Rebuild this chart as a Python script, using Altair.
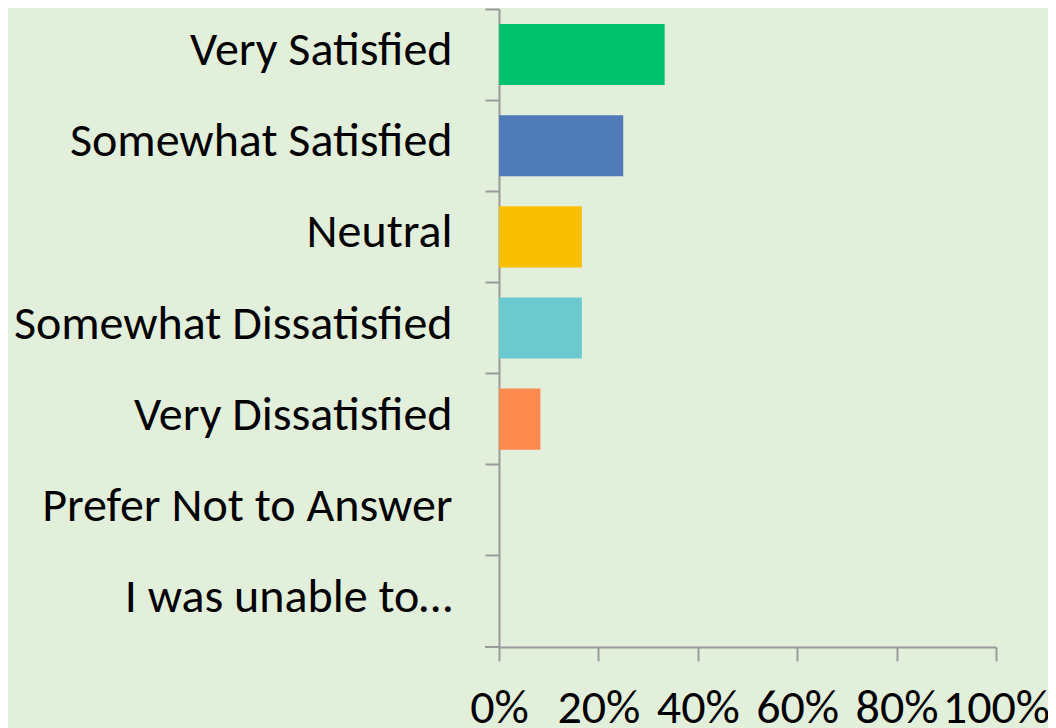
import altair as alt
import pandas as pd

categories = ["Very Satisfied", "Somewhat Satisfied", "Neutral", "Somewhat Dissatisfied",
              "Very Dissatisfied", "Prefer Not to Answer", "I was unable to…"]
values = [0.3333, 0.25, 0.1667, 0.1667, 0.0833, 0.0, 0.0]
colors = ["#00C16E", "#4F7BB8", "#F9BF00", "#6CC9CE", "#FF8A50", "#A5A5A5", "#A5A5A5"]
x_ticks = [0, 0.2, 0.4, 0.6, 0.8, 1.0]

df = pd.DataFrame({"category": categories, "value": values, "color": colors})

FONT = "Carlito, Calibri, Lato"
BG = "#E2EFDA"
AXC = "#9A9A9A"

y_scale = alt.Scale(domain=categories, paddingInner=0, paddingOuter=0)

bars = alt.Chart(df).mark_bar(height={"band": 0.67}).encode(
    x=alt.X("value:Q", scale=alt.Scale(domain=[0, 1]),
            axis=alt.Axis(values=x_ticks, format=".0%", title=None, grid=False,
                          tickSize=14, tickWidth=2, tickColor=AXC,
                          domainColor=AXC, domainWidth=2,
                          labelFont=FONT, labelFontSize=48, labelColor="#000000",
                          labelPadding=23, labelFlush=False, labelOverlap=False)),
    y=alt.Y("category:N", scale=y_scale, sort=categories,
            axis=alt.Axis(title=None, bandPosition=0, labelOffset=-3.5,
                          tickSize=14, tickWidth=2, tickColor=AXC,
                          domainColor=AXC, domainWidth=2,
                          labelFont=FONT, labelFontSize=48, labelColor="#000000",
                          labelPadding=33, labelLimit=500)),
    color=alt.Color("color:N", scale=None),
)

# bottom-most category boundary tick (axis styling)
bottom_tick = alt.Chart(pd.DataFrame({"k": [0]})).mark_rule(color=AXC, strokeWidth=2).encode(
    x=alt.value(-14), x2=alt.value(0), y=alt.value(638)
)

chart = alt.layer(bars, bottom_tick).properties(
    width=497, height=638,
    autosize=alt.AutoSizeParams(type="none"),
    padding={"left": 491, "top": 1, "right": 52, "bottom": 81},
    background=BG,
).configure_view(stroke=None)

chart.save("out.html", embed_options={"renderer": "svg", "actions": False})
